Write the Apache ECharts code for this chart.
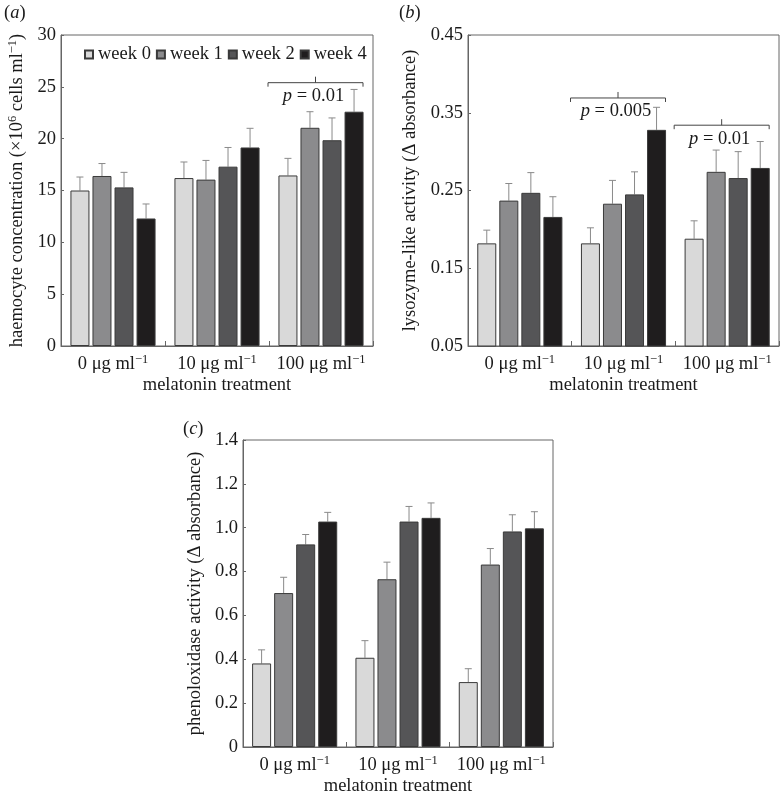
<!DOCTYPE html>
<html>
<head>
<meta charset="utf-8">
<script src="https://cdn.jsdelivr.net/npm/echarts@6/dist/echarts.min.js"></script>
<style>html,body{margin:0;padding:0;background:#fff}#c{width:781px;height:797px}</style>
</head>
<body>
<div id="c"></div>
<script>
// ---------- data ----------
const doseLabels = ['0 μg ml⁻¹', '10 μg ml⁻¹', '100 μg ml⁻¹'];
const weeks = ['week 0', 'week 1', 'week 2', 'week 4'];

// (a) haemocyte concentration (x10^6 cells/ml), per week across doses
const haemoMean = [
  [15.0, 16.2, 16.45],
  [16.4, 16.05, 21.05],
  [15.3, 17.3, 19.85],
  [12.3, 19.15, 22.6]
];
const haemoSE = [
  [1.3, 1.55, 1.65],
  [1.2, 1.85, 1.55],
  [1.45, 1.85, 2.15],
  [1.4, 1.85, 2.15]
];
// (b) lysozyme-like activity
const lysoMean = [
  [0.182, 0.182, 0.188],
  [0.237, 0.233, 0.274],
  [0.247, 0.245, 0.266],
  [0.216, 0.328, 0.279]
];
const lysoSE = [
  [0.017, 0.020, 0.023],
  [0.022, 0.030, 0.028],
  [0.026, 0.029, 0.034],
  [0.026, 0.029, 0.034]
];
// (c) phenoloxidase activity
const phenoMean = [
  [0.381, 0.407, 0.296],
  [0.702, 0.765, 0.832],
  [0.924, 1.028, 0.983],
  [1.028, 1.045, 0.997]
];
const phenoSE = [
  [0.062, 0.078, 0.061],
  [0.072, 0.078, 0.073],
  [0.045, 0.069, 0.076],
  [0.042, 0.068, 0.076]
];

// tick labels
const ticksA = [0, 5, 10, 15, 20, 25, 30];
const ticksB = [0.05, 0.15, 0.25, 0.35, 0.45];
const ticksC = [0, 0.2, 0.4, 0.6, 0.8, 1.0, 1.2, 1.4];

// significance annotations: [dose index, bracket level, label]
const sigA = [[2, 25.4, '0.01']];
const sigB = [[1, 0.369, '0.005'], [2, 0.334, '0.01']];

// ---------- style ----------
const FONT = 'Liberation Serif';
const FS = 18.5;
const TXT = '#1a1a1a';
const colors = ['#d9d9d9', '#8b8b8d', '#555557', '#1f1d1e'];
const BAR_W = 19, BAR_GAP = 0.16;
const STEP = BAR_W * (1 + BAR_GAP);

const supRich = {
  n: { fontFamily: FONT, fontSize: FS, color: TXT, lineHeight: 22 },
  s: { fontFamily: FONT, fontSize: 12.5, color: TXT, verticalAlign: 'top', lineHeight: 12 }
};
function supFmt(str) {
  const map = { '⁻': '−', '¹': '1', '⁶': '6' };
  let out = '', cur = '', inSup = false;
  for (const ch of str) {
    const isSup = map[ch] !== undefined;
    if (isSup !== inSup) {
      if (cur) out += '{' + (inSup ? 's' : 'n') + '|' + cur + '}';
      cur = ''; inSup = isSup;
    }
    cur += isSup ? map[ch] : ch;
  }
  if (cur) out += '{' + (inSup ? 's' : 'n') + '|' + cur + '}';
  return out;
}

const grids = [
  { left: 61, top: 35, width: 312, height: 311 },
  { left: 468, top: 35, width: 311, height: 311 },
  { left: 243, top: 440, width: 310, height: 311 }
];
const yNames = [
  'haemocyte concentration (×10⁶ cells ml⁻¹)',
  'lysozyme-like activity (Δ absorbance)',
  'phenoloxidase activity (Δ absorbance)'
];
const yRanges = [[0, 30, ticksA], [0.05, 0.45, ticksB], [0, 1.4, ticksC]];
const yFmt = [v => String(v), v => v.toFixed(2), v => (v === 0 ? '0' : v.toFixed(1))];
const yGaps = [33, 47, 37];

const panelRich = {
  n: { fontFamily: FONT, fontSize: FS, fill: TXT },
  i: { fontFamily: FONT, fontSize: FS, fontStyle: 'italic', fill: TXT }
};

const option = {
  animation: false,
  backgroundColor: '#fff',
  textStyle: { fontFamily: FONT },
  grid: grids.map(g => Object.assign({ show: true, borderColor: '#666', borderWidth: 1, backgroundColor: 'transparent' }, g)),
  legend: {
    data: weeks,
    left: 79, top: 40,
    icon: 'rect', itemWidth: 8, itemHeight: 8, itemGap: 5,
    textStyle: { fontFamily: FONT, fontSize: FS, color: TXT },
    selectedMode: false
  },
  xAxis: grids.map((g, i) => ({
    type: 'category', gridIndex: i, data: doseLabels,
    axisLine: { show: true, lineStyle: { color: '#666' } },
    axisTick: { show: true, inside: true, length: 5, alignWithLabel: false, lineStyle: { color: '#666' } },
    axisLabel: { interval: 0, margin: 7, formatter: v => supFmt(v), rich: supRich },
    name: 'melatonin treatment', nameLocation: 'middle', nameGap: 30,
    nameTextStyle: { fontFamily: FONT, fontSize: FS, color: TXT }
  })),
  yAxis: yRanges.map((r, i) => ({
    type: 'value', gridIndex: i, min: r[0], max: r[1],
    axisLine: { show: true, lineStyle: { color: '#666' } },
    splitLine: { show: false },
    axisTick: { show: true, inside: true, length: 3, customValues: r[2], lineStyle: { color: '#666' } },
    axisLabel: { customValues: r[2], margin: 5, fontFamily: FONT, fontSize: FS, color: TXT, formatter: yFmt[i] },
    name: supFmt(yNames[i]), nameLocation: 'middle', nameGap: yGaps[i],
    nameTextStyle: { rich: supRich }
  })),
  graphic: [
    { type: 'text', left: 4, top: 4, style: { text: '{n|(}{i|a}{n|)}', rich: panelRich } },
    { type: 'text', left: 399, top: 4, style: { text: '{n|(}{i|b}{n|)}', rich: panelRich } },
    { type: 'text', left: 183, top: 420, style: { text: '{n|(}{i|c}{n|)}', rich: panelRich } }
  ],
  series: []
};

const means = [haemoMean, lysoMean, phenoMean];
const ses = [haemoSE, lysoSE, phenoSE];

means.forEach((M, gi) => {
  weeks.forEach((w, wi) => {
    option.series.push({
      type: 'bar', name: w, xAxisIndex: gi, yAxisIndex: gi,
      data: M[wi], barWidth: BAR_W, barGap: (BAR_GAP * 100) + '%',
      itemStyle: { color: colors[wi], borderColor: '#3a3a3a', borderWidth: 1 },
      z: 3
    });
  });
  weeks.forEach((w, wi) => {
    option.series.push({
      type: 'custom', xAxisIndex: gi, yAxisIndex: gi, z: 2,
      data: M[wi].map((m, di) => [di, m, m + ses[gi][wi][di]]),
      encode: { x: 0, y: [1, 2] },
      renderItem: (params, api) => {
        const c = api.value(0);
        const b = api.coord([c, api.value(1)]);
        const t = api.coord([c, api.value(2)]);
        const x = b[0] + (wi - 1.5) * STEP;
        return {
          type: 'group', children: [
            { type: 'line', shape: { x1: x, y1: b[1], x2: x, y2: t[1] }, style: { stroke: '#8a8a8a', lineWidth: 1 } },
            { type: 'line', shape: { x1: x - 3.5, y1: t[1], x2: x + 3.5, y2: t[1] }, style: { stroke: '#8a8a8a', lineWidth: 1 } }
          ]
        };
      }
    });
  });
});

function bracketSeries(gi, sig) {
  return {
    type: 'custom', xAxisIndex: gi, yAxisIndex: gi, z: 5,
    data: sig.map(s => [s[0], s[1]]),
    renderItem: (params, api) => {
      const p = api.coord([api.value(0), api.value(1)]);
      const L = p[0] - 53, R = p[0] + 42, y = p[1], Mx = (L + R) / 2;
      const label = sig[params.dataIndex][2];
      return {
        type: 'group', children: [
          { type: 'polyline', shape: { points: [[L, y + 4], [L, y], [R, y], [R, y + 4]] }, style: { stroke: '#444', fill: null, lineWidth: 1 } },
          { type: 'line', shape: { x1: Mx, y1: y - 6, x2: Mx, y2: y }, style: { stroke: '#444', lineWidth: 1 } },
          { type: 'text', x: Mx - 2, y: y + 4, style: {
            text: '{i|p} = ' + label, align: 'center', verticalAlign: 'top',
            fontFamily: FONT, fontSize: FS, fill: TXT,
            rich: { i: { fontFamily: FONT, fontSize: FS, fontStyle: 'italic', fill: TXT } }
          } }
        ]
      };
    }
  };
}
option.series.push(bracketSeries(0, sigA));
option.series.push(bracketSeries(1, sigB));

const chart = echarts.init(document.getElementById('c'), null, { renderer: 'canvas' });
chart.setOption(option);
</script>
</body>
</html>
